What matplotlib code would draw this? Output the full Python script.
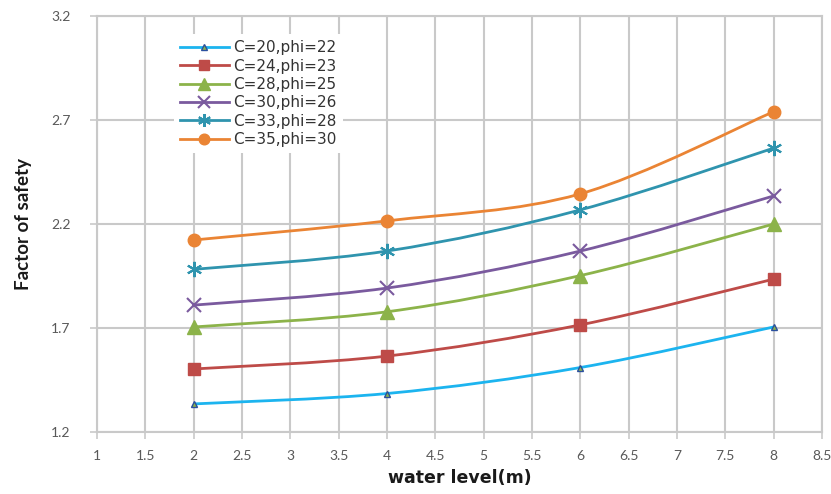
import numpy as np
import matplotlib as mpl
mpl.use('Agg')
import matplotlib.pyplot as plt
from matplotlib.path import Path
from matplotlib.patches import PathPatch
from matplotlib.lines import Line2D

# water level (m)
water_level = [2, 4, 6, 8]

series_labels = ['C=20,phi=22', 'C=24,phi=23', 'C=28,phi=25',
                 'C=30,phi=26', 'C=33,phi=28', 'C=35,phi=30']

fs_c20 = [1.335, 1.385, 1.51, 1.705]
fs_c24 = [1.503, 1.565, 1.715, 1.935]
fs_c28 = [1.705, 1.778, 1.952, 2.20]
fs_c30 = [1.81, 1.892, 2.07, 2.335]
fs_c33 = [1.982, 2.07, 2.268, 2.565]
fs_c35 = [2.123, 2.215, 2.345, 2.74]

series = [fs_c20, fs_c24, fs_c28, fs_c30, fs_c33, fs_c35]

line_color = ['#1cb4ef', '#be4b48', '#8cb34a', '#7a5a9e', '#2f94ae', '#ea8434']
marker = ['^', 's', '^', 'x', (6, 2, 0), 'o']
marker_size = [5, 9, 10, 10, 11, 9]
marker_width = [1.0, 1.0, 1.0, 1.5, 1.5, 1.0]
face_color = ['#8cb34a', '#be4b48', '#8cb34a', '#7a5a9e', '#2f94ae', '#ea8434']
edge_color = ['#2a4f9e', '#be4b48', '#8cb34a', '#7a5a9e', '#2f94ae', '#ea8434']

grid_color = '#c9c9c9'
tick_color = '#595959'

plt.rcParams['font.family'] = ['Lato', 'DejaVu Sans']


def smooth_path(x, y):
    # catmull-rom like bezier through the points (Excel smoothed line)
    pts = np.column_stack([x, y]).astype(float)
    n = len(pts)
    verts = [pts[0]]
    codes = [Path.MOVETO]
    for i in range(n - 1):
        p0 = pts[max(i - 1, 0)]
        p1 = pts[i]
        p2 = pts[i + 1]
        p3 = pts[min(i + 2, n - 1)]
        c1 = p1 + (p2 - p0) / 6.0
        c2 = p2 - (p3 - p1) / 6.0
        verts += [c1, c2, p2]
        codes += [Path.CURVE4] * 3
    return Path(verts, codes)


fig = plt.figure(figsize=(8.31, 4.94), dpi=100)
ax = fig.add_axes([97/831, 1 - 432/494, (822-97)/831, (432-16)/494])

for k, fs in enumerate(series):
    patch = PathPatch(smooth_path(water_level, fs), facecolor='none',
                      edgecolor=line_color[k], lw=2.0, zorder=3)
    ax.add_patch(patch)
    ax.plot(water_level, fs, ls='none', marker=marker[k],
            ms=marker_size[k], mfc=face_color[k], mec=edge_color[k],
            mew=marker_width[k], zorder=4)

ax.set_xlim(1, 8.5)
ax.set_ylim(1.2, 3.2)
ax.set_xticks(np.arange(1, 8.51, 0.5))
ax.set_xticklabels(['{:g}'.format(v) for v in np.arange(1, 8.51, 0.5)])
ax.set_yticks(np.arange(1.2, 3.21, 0.5))
ax.set_yticklabels(['{:.1f}'.format(v) for v in np.arange(1.2, 3.21, 0.5)])

ax.grid(True, color=grid_color, lw=1.5, zorder=0)
ax.set_axisbelow(True)
for s in ax.spines.values():
    s.set_color(grid_color)
    s.set_linewidth(1.5)

ax.tick_params(axis='both', colors=grid_color, labelcolor=tick_color,
               labelsize=10, length=5, width=1.2)
ax.tick_params(axis='y', pad=14)
ax.tick_params(axis='x', pad=8)

ax.set_xlabel('water level(m)', fontsize=12.5, fontweight='bold', labelpad=5,
              family=['DejaVu Sans'], color='#1a1a1a')
ax.set_ylabel('Factor of safety', fontsize=13.5, fontweight='bold', labelpad=14,
              color='#1a1a1a')

handles = [Line2D([], [], color=line_color[k], lw=2.0, marker=marker[k],
                  ms=marker_size[k] * 0.85, mfc=face_color[k], mec=edge_color[k],
                  mew=marker_width[k])
           for k in range(len(series))]
leg = ax.legend(handles, series_labels, loc='upper left',
                bbox_to_anchor=(0.095, 0.975),
                prop={'family': 'DejaVu Sans', 'size': 11},
                frameon=True, fancybox=False, handlelength=3.2,
                handletextpad=0.3, labelspacing=0.22, borderpad=0.4)
leg.get_frame().set_edgecolor('none')
leg.get_frame().set_facecolor('white')
leg.get_frame().set_alpha(1.0)
for t in leg.get_texts():
    t.set_color('#333333')

fig.savefig('out.png', dpi=100)
